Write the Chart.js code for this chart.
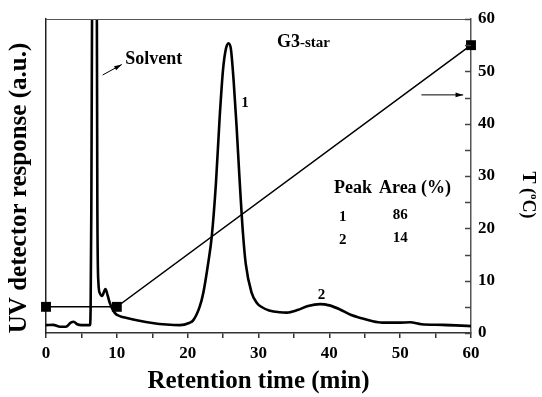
<!DOCTYPE html>
<html>
<head>
<meta charset="utf-8">
<script src="https://cdn.jsdelivr.net/npm/chart.js@4"></script>
<style>
  html, body { margin: 0; padding: 0; background: #fff; }
  #wrap { width: 542px; height: 397px; }
</style>
</head>
<body>
<div id="wrap"><canvas id="chart" width="542" height="397"></canvas></div>
<script>
// UV trace (retention time in min, response in arbitrary units 0-100)
const retentionTime = [0, 1, 2, 2.8, 3.5, 3.9, 4.4, 5, 6.2, 6.3, 6.4, 6.55, 6.9, 7.15, 7.25, 7.4, 7.6, 7.9, 8.4, 8.7, 9.0, 9.7, 10.5, 11.4, 13, 15, 17, 18.9, 20.2, 20.8, 21.7, 22.2, 22.9, 23.4, 24.0, 24.5, 25.0, 25.4, 25.75, 26.1, 26.5, 26.9, 27.3, 27.8, 28.2, 29.0, 29.8, 30.5, 31.5, 33, 34, 35.5, 37, 38.7, 40, 41.5, 43, 44.4, 46, 47.5, 50, 51.4, 53, 56, 60];
const uvResponse = [2.5, 2.6, 2.0, 2.0, 3.3, 3.6, 2.8, 2.5, 2.5, 8, 40, 130, 220, 130, 40, 16, 12.7, 11.8, 14, 12, 9.6, 6.4, 5.3, 4.8, 4.0, 3.2, 2.7, 2.5, 3.2, 4.1, 8.4, 12.7, 22.3, 30.7, 48, 68, 84, 90.5, 92.3, 90.5, 80, 66, 50, 32, 22, 13, 9.5, 8.2, 7.2, 6.6, 6.5, 7.3, 8.6, 9.2, 8.8, 7.5, 5.8, 4.8, 3.8, 3.3, 3.3, 3.4, 2.8, 2.6, 2.2];

// column temperature program
const tempTime = [0, 10, 60];
const tempValues = [5, 5, 55];

// peak table
const peakNames = ['1', '2'];
const peakAreas = ['86', '14'];

const FONT = "'Liberation Serif', 'Times New Roman', serif";

// texts placed in data units (x: min, y: right axis degC)
const notes = [
  { text: 'Solvent', x: 11.2, y: 52.3, size: 18, align: 'left' },
  { text: '1', x: 28.1, y: 43.9, size: 15, align: 'center' },
  { text: '2', x: 38.9, y: 7.3, size: 15, align: 'center' },
  { text: 'Peak', x: 43.35, y: 27.6, size: 18, align: 'center' },
  { text: 'Area (%)', x: 52.1, y: 27.6, size: 18, align: 'center' }
];

const fixedSize = (w, h) => (scale) => {
  if (w != null) scale.width = w;
  if (h != null) scale.height = h;
};

const overlay = {
  id: 'overlay',
  afterDraw(chart) {
    const ctx = chart.ctx;
    const area = chart.chartArea;
    const xs = chart.scales.x;
    const yt = chart.scales.y2;
    ctx.save();

    // top frame line
    ctx.strokeStyle = '#555';
    ctx.lineWidth = 1;
    ctx.beginPath();
    ctx.moveTo(area.left, area.top + 0.5);
    ctx.lineTo(area.right, area.top + 0.5);
    ctx.stroke();

    // inward ticks on the temperature axis
    ctx.strokeStyle = '#444';
    ctx.lineWidth = 1.5;
    for (let v = 0; v <= 60; v += 5) {
      const py = Math.round(yt.getPixelForValue(v)) + 0.5;
      ctx.beginPath();
      ctx.moveTo(area.right, py);
      ctx.lineTo(area.right - 6, py);
      ctx.stroke();
    }

    ctx.fillStyle = '#000';
    ctx.textBaseline = 'middle';
    notes.forEach(n => {
      ctx.font = 'bold ' + n.size + 'px ' + FONT;
      ctx.textAlign = n.align;
      ctx.fillText(n.text, xs.getPixelForValue(n.x), yt.getPixelForValue(n.y));
    });

    // sample title G3-star
    ctx.textAlign = 'left';
    ctx.textBaseline = 'alphabetic';
    const gx = xs.getPixelForValue(32.6), gy = yt.getPixelForValue(54.7);
    ctx.font = 'bold 18px ' + FONT;
    ctx.fillText('G3', gx, gy);
    const gw = ctx.measureText('G3').width;
    ctx.font = 'bold 15px ' + FONT;
    ctx.fillText('-star', gx + gw, gy);

    // peak table rows
    ctx.textAlign = 'center';
    ctx.textBaseline = 'middle';
    ctx.font = 'bold 15px ' + FONT;
    peakNames.forEach((p, i) => {
      const py = yt.getPixelForValue(22.2 - i * 4.5);
      ctx.fillText(p, xs.getPixelForValue(41.9), py);
      ctx.fillText(peakAreas[i], xs.getPixelForValue(50.0), py - 2);
    });

    // arrows
    const arrow = (x1, y1, x2, y2) => {
      const p1 = [xs.getPixelForValue(x1), yt.getPixelForValue(y1)];
      const p2 = [xs.getPixelForValue(x2), yt.getPixelForValue(y2)];
      const a = Math.atan2(p2[1] - p1[1], p2[0] - p1[0]);
      ctx.strokeStyle = '#000';
      ctx.lineWidth = 1;
      ctx.beginPath();
      ctx.moveTo(p1[0], p1[1]);
      ctx.lineTo(p2[0], p2[1]);
      ctx.stroke();
      ctx.beginPath();
      ctx.moveTo(p2[0], p2[1]);
      ctx.lineTo(p2[0] - 8 * Math.cos(a - 0.3), p2[1] - 8 * Math.sin(a - 0.3));
      ctx.lineTo(p2[0] - 8 * Math.cos(a + 0.3), p2[1] - 8 * Math.sin(a + 0.3));
      ctx.closePath();
      ctx.fill();
    };
    arrow(8.0, 49.3, 10.7, 51.3);
    arrow(53.0, 45.5, 58.9, 45.5);

    // left axis title
    ctx.save();
    ctx.translate(20, 188);
    ctx.rotate(-Math.PI / 2);
    ctx.font = 'bold 25px ' + FONT;
    ctx.textAlign = 'center';
    ctx.textBaseline = 'middle';
    ctx.fillText('UV detector response (a.u.)', 0, 0);
    ctx.restore();

    // right axis title T (oC) with raised o
    ctx.save();
    ctx.translate(528, 195);
    ctx.rotate(Math.PI / 2);
    ctx.textBaseline = 'middle';
    ctx.textAlign = 'left';
    const big = 'bold 18px ' + FONT, small = 'bold 11px ' + FONT;
    ctx.font = big;
    const w1 = ctx.measureText('T (').width;
    const w3 = ctx.measureText('C)').width;
    ctx.font = small;
    const w2 = ctx.measureText('o').width;
    let cx = -(w1 + w2 + w3) / 2;
    ctx.font = big;
    ctx.fillText('T (', cx, 0);
    cx += w1;
    ctx.font = small;
    ctx.fillText('o', cx, -6);
    cx += w2;
    ctx.font = big;
    ctx.fillText('C)', cx, 0);
    ctx.restore();

    ctx.restore();
  }
};

new Chart(document.getElementById('chart'), {
  type: 'line',
  data: {
    datasets: [
      {
        data: retentionTime.map((t, i) => ({ x: t, y: uvResponse[i] })),
        yAxisID: 'y',
        borderColor: '#000',
        borderWidth: 2.6,
        pointRadius: 0,
        cubicInterpolationMode: 'monotone'
      },
      {
        data: tempTime.map((t, i) => ({ x: t, y: tempValues[i] })),
        yAxisID: 'y2',
        borderColor: '#000',
        borderWidth: 1.5,
        pointStyle: 'rect',
        pointRadius: 7,
        pointBackgroundColor: '#000',
        pointBorderWidth: 0,
        clip: false
      }
    ]
  },
  options: {
    responsive: false,
    animation: false,
    layout: { padding: { top: 19, left: 0, right: 0, bottom: 0 } },
    plugins: { legend: { display: false }, tooltip: { enabled: false } },
    scales: {
      x: {
        type: 'linear',
        position: 'bottom',
        min: 0,
        max: 60,
        afterFit: fixedSize(null, 64),
        grid: { drawOnChartArea: false, drawTicks: true, tickLength: 5, color: '#333', lineWidth: 1.5 },
        border: { color: '#333', width: 1.5 },
        ticks: {
          stepSize: 5,
          autoSkip: false,
          maxRotation: 0,
          padding: 5,
          color: '#000',
          font: { family: FONT, size: 17, weight: 'bold' },
          callback: v => (v % 10 === 0 ? v : '')
        },
        title: {
          display: true,
          text: 'Retention time (min)',
          color: '#000',
          padding: { top: 2, bottom: 0 },
          font: { family: FONT, size: 25, weight: 'bold' }
        }
      },
      y: {
        position: 'left',
        min: 0,
        max: 100,
        afterFit: fixedSize(46, null),
        grid: { display: false },
        border: { color: '#222', width: 1.5 },
        ticks: { display: false }
      },
      y2: {
        position: 'right',
        min: 0,
        max: 60,
        afterFit: fixedSize(71, null),
        grid: { display: false, drawTicks: false },
        border: { color: '#555', width: 1.5 },
        ticks: {
          stepSize: 5,
          autoSkip: false,
          padding: 7,
          color: '#000',
          font: { family: FONT, size: 17, weight: 'bold' },
          callback: v => (v % 10 === 0 ? v : '')
        }
      }
    }
  },
  plugins: [overlay]
});
</script>
</body>
</html>
